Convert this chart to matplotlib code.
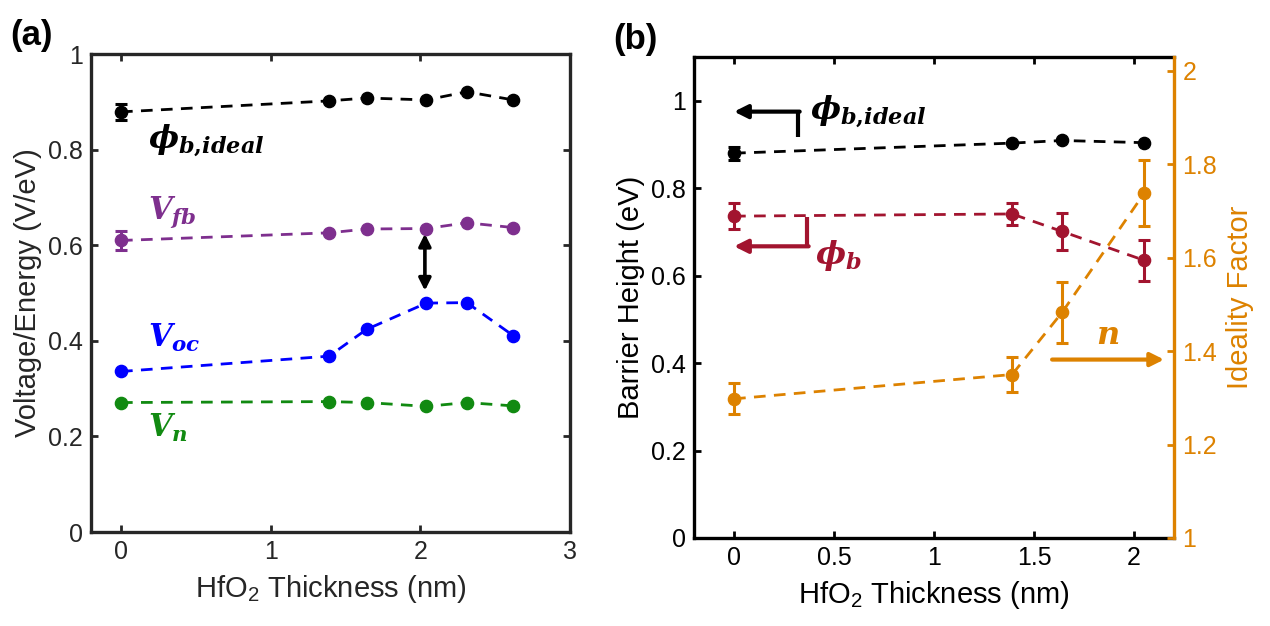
import numpy as np
import matplotlib
matplotlib.use("Agg")
import matplotlib.pyplot as plt

plt.rcParams["font.family"] = ["Liberation Sans", "DejaVu Sans"]
plt.rcParams["mathtext.fontset"] = "custom"
plt.rcParams["mathtext.it"] = "DejaVu Serif:italic:bold"
plt.rcParams["mathtext.rm"] = "DejaVu Serif:bold"
plt.rcParams["mathtext.bf"] = "DejaVu Serif:bold"

# ---- data, panel (a)
thk_a = [0, 1.39, 1.64, 2.04, 2.31, 2.62]
phi_ideal_a = [0.879, 0.902, 0.908, 0.904, 0.921, 0.904]
phi_ideal_a_err = [0.017, 0, 0, 0, 0, 0]
v_fb = [0.610, 0.626, 0.634, 0.635, 0.647, 0.637]
v_fb_err = [0.02, 0, 0, 0, 0, 0]
v_oc = [0.336, 0.368, 0.424, 0.479, 0.480, 0.411]
v_n = [0.271, 0.273, 0.271, 0.263, 0.271, 0.264]

# ---- data, panel (b)
thk_b = [0, 1.39, 1.64, 2.05]
phi_ideal_b = [0.880, 0.903, 0.909, 0.904]
phi_ideal_b_err = [0.015, 0, 0, 0]
phi_b = [0.736, 0.741, 0.701, 0.635]
phi_b_err = [0.030, 0.025, 0.043, 0.047]
n_ideal = [1.298, 1.350, 1.483, 1.738]
n_ideal_err = [0.033, 0.038, 0.065, 0.071]

BLACK = "black"
PURPLE = "#7E2F8E"
BLUE = "#0000FF"
GREEN = "#118A11"
DRED = "#A2142F"
ORANGE = "#DD8200"


def series(ax, x, y, color, err=None):
    if err is not None:
        ax.errorbar(x, y, yerr=err, fmt="none", ecolor=color, elinewidth=2.2,
                    capsize=4.5, capthick=2.2, zorder=3)
    ax.plot(x, y, linestyle=(0, (4.2, 3.0)), lw=2.0, color=color,
            marker="o", markersize=8.8, zorder=4)


fig = plt.figure(figsize=(12.7, 6.26), dpi=100)

# ================= panel (a)
ax1 = fig.add_axes([0.0717, 0.150, 0.3772, 0.7637])
series(ax1, thk_a, phi_ideal_a, BLACK, phi_ideal_a_err)
series(ax1, thk_a, v_fb, PURPLE, v_fb_err)
series(ax1, thk_a, v_oc, BLUE)
series(ax1, thk_a, v_n, GREEN)

ax1.set_xlim(-0.2, 3)
ax1.set_ylim(0, 1)
ax1.set_xticks([0, 1, 2, 3])
ax1.set_xticklabels(["0", "1", "2", "3"])
ax1.set_yticks([0, 0.2, 0.4, 0.6, 0.8, 1])
ax1.set_yticklabels(["0", "0.2", "0.4", "0.6", "0.8", "1"])
ax1.tick_params(direction="in", length=5, width=2, labelsize=18,
                colors="#262626", top=True, right=True, pad=6)
for s in ax1.spines.values():
    s.set_linewidth(2.4)
    s.set_color("#262626")
ax1.set_xlabel(r"HfO$_{\mathregular{2}}$ Thickness (nm)", fontsize=21,
               color="#262626", labelpad=6)
ax1.set_ylabel("Voltage/Energy (V/eV)", fontsize=21, color="#262626",
               labelpad=4)

ax1.text(0.18, 0.820, r"$\phi_{b{,}ideal}$", color=BLACK, fontsize=23,
         va="center", ha="left")
ax1.text(0.18, 0.670, r"$V_{fb}$", color=PURPLE, fontsize=22,
         va="center", ha="left")
ax1.text(0.18, 0.407, r"$V_{oc}$", color=BLUE, fontsize=22,
         va="center", ha="left")
ax1.text(0.18, 0.217, r"$V_{n}$", color=GREEN, fontsize=22,
         va="center", ha="left")
ax1.annotate("", xy=(2.03, 0.505), xytext=(2.03, 0.624),
             arrowprops=dict(arrowstyle="<|-|>", color="black", lw=2.6,
                             mutation_scale=18, shrinkA=0, shrinkB=0))

fig.text(0.008, 0.928, "(a)", fontsize=25, fontweight="bold")

# ================= panel (b)
ax2 = fig.add_axes([0.5465, 0.1406, 0.3780, 0.7684])
ax3 = ax2.twinx()
series(ax2, thk_b, phi_ideal_b, BLACK, phi_ideal_b_err)
series(ax2, thk_b, phi_b, DRED, phi_b_err)
series(ax3, thk_b, n_ideal, ORANGE, n_ideal_err)

ax2.set_xlim(-0.2, 2.2)
ax2.set_ylim(0, 1.1)
ax3.set_ylim(1, 2.03)
ax2.set_xticks([0, 0.5, 1, 1.5, 2])
ax2.set_xticklabels(["0", "0.5", "1", "1.5", "2"])
ax2.set_yticks([0, 0.2, 0.4, 0.6, 0.8, 1])
ax2.set_yticklabels(["0", "0.2", "0.4", "0.6", "0.8", "1"])
ax3.set_yticks([1, 1.2, 1.4, 1.6, 1.8, 2])
ax3.set_yticklabels(["1", "1.2", "1.4", "1.6", "1.8", "2"])
ax2.tick_params(direction="in", length=5, width=2, labelsize=18,
                colors="black", top=True, right=False, pad=6)
ax3.tick_params(axis="y", direction="in", length=5, width=2, labelsize=18,
                colors=ORANGE, pad=6)
for s in ax2.spines.values():
    s.set_linewidth(2.4)
    s.set_color("black")
ax2.spines["right"].set_visible(False)
for name, s in ax3.spines.items():
    s.set_linewidth(2.4)
    s.set_visible(name == "right")
ax3.spines["right"].set_color(ORANGE)

ax2.set_xlabel(r"HfO$_{\mathregular{2}}$ Thickness (nm)", fontsize=21,
               labelpad=6)
ax2.set_ylabel("Barrier Height (eV)", fontsize=21, labelpad=4)
ax3.set_ylabel("Ideality Factor", fontsize=21, color=ORANGE, labelpad=6)

# bracket arrows
ax2.plot([0.32, 0.32], [0.917, 0.975], color=BLACK, lw=3, solid_capstyle="butt")
ax2.annotate("", xy=(0.0, 0.975), xytext=(0.328, 0.975),
             arrowprops=dict(arrowstyle="-|>", color=BLACK, lw=3,
                             mutation_scale=20, shrinkA=0, shrinkB=0))
ax2.text(0.38, 0.975, r"$\phi_{b{,}ideal}$", color=BLACK, fontsize=23,
         va="center", ha="left")

ax2.plot([0.365, 0.365], [0.734, 0.667], color=DRED, lw=3, solid_capstyle="butt")
ax2.annotate("", xy=(0.0, 0.667), xytext=(0.373, 0.667),
             arrowprops=dict(arrowstyle="-|>", color=DRED, lw=3,
                             mutation_scale=20, shrinkA=0, shrinkB=0))
ax2.text(0.405, 0.647, r"$\phi_{b}$", color=DRED, fontsize=23,
         va="center", ha="left")

ax2.annotate("", xy=(2.15, 0.408), xytext=(1.59, 0.408),
             arrowprops=dict(arrowstyle="-|>", color=ORANGE, lw=3,
                             mutation_scale=20, shrinkA=0, shrinkB=0))
ax2.text(1.87, 0.463, r"$n$", color=ORANGE, fontsize=23,
         va="center", ha="center")

fig.text(0.483, 0.922, "(b)", fontsize=25, fontweight="bold")

fig.savefig("out.png", dpi=100)
